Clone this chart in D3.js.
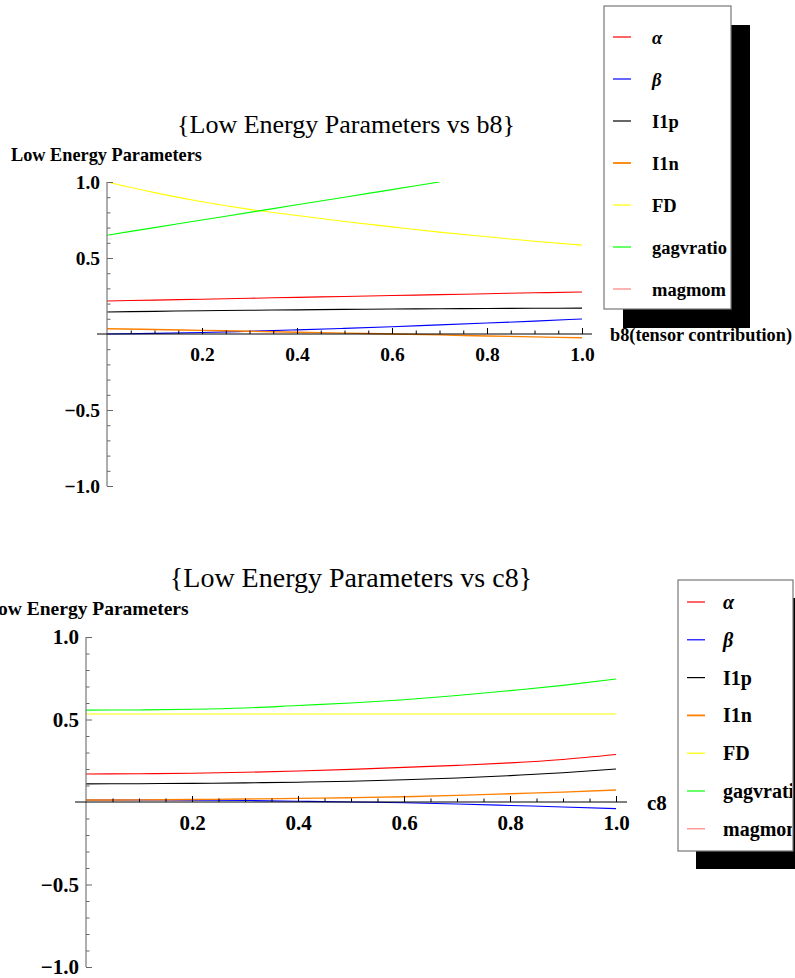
<!DOCTYPE html>
<html>
<head>
<meta charset="utf-8">
<script src="https://cdn.jsdelivr.net/npm/d3@7"></script>
<style>
  body { margin: 0; background: #fff; }
  text { font-family: "Liberation Serif", "Times New Roman", serif; }
</style>
</head>
<body>
<div class="svg-container"></div>
<script>
// ---- data ----
let xValues = [0, 0.1, 0.2, 0.3, 0.4, 0.5, 0.6, 0.7, 0.8, 0.9, 1.0];

let seriesNames = ['α', 'β', 'I1p', 'I1n', 'FD', 'gagvratio', 'magmom'];

// b8 chart
let alphaB8 = [0.217, 0.223, 0.229, 0.235, 0.241, 0.247, 0.253, 0.259, 0.265, 0.271, 0.276];
let betaB8  = [0.000, 0.004, 0.010, 0.018, 0.027, 0.037, 0.048, 0.060, 0.072, 0.085, 0.099];
let i1pB8   = [0.145, 0.149, 0.153, 0.156, 0.159, 0.162, 0.164, 0.166, 0.168, 0.169, 0.170];
let i1nB8   = [0.035, 0.030, 0.024, 0.018, 0.012, 0.006, 0.000, -0.006, -0.013, -0.019, -0.025];
let fdB8    = [1.000, 0.930, 0.870, 0.820, 0.780, 0.740, 0.705, 0.670, 0.640, 0.610, 0.585];
let gagB8   = [0.650, 0.700, 0.750, 0.800, 0.850, 0.900, 0.950, 1.000];
let magB8   = [];

// c8 chart
let alphaC8 = [0.170, 0.171, 0.174, 0.180, 0.188, 0.198, 0.210, 0.222, 0.237, 0.258, 0.288];
let betaC8  = [0.012, 0.012, 0.011, 0.009, 0.005, 0.000, -0.005, -0.012, -0.021, -0.030, -0.040];
let i1pC8   = [0.110, 0.111, 0.113, 0.116, 0.120, 0.126, 0.135, 0.145, 0.160, 0.177, 0.200];
let i1nC8   = [0.012, 0.013, 0.015, 0.018, 0.022, 0.026, 0.032, 0.040, 0.050, 0.060, 0.073];
let fdC8    = [0.533, 0.533, 0.533, 0.533, 0.533, 0.533, 0.533, 0.533, 0.533, 0.533, 0.533];
let gagC8   = [0.557, 0.558, 0.562, 0.570, 0.585, 0.600, 0.620, 0.645, 0.675, 0.707, 0.745];
let magC8   = [];

let xMajorTicks = [0.2, 0.4, 0.6, 0.8, 1.0];
let xMinorTicks = [0.05, 0.1, 0.15, 0.25, 0.3, 0.35, 0.45, 0.5, 0.55, 0.65, 0.7, 0.75, 0.85, 0.9, 0.95];
let yMajorTicks = [-1.0, -0.5, 0.5, 1.0];
let yMinorTicks = [-0.9, -0.8, -0.7, -0.6, -0.4, -0.3, -0.2, -0.1, 0.1, 0.2, 0.3, 0.4, 0.6, 0.7, 0.8, 0.9];

let seriesColor = ['#ff0000', '#0000ff', '#000000', '#ff8000', '#ffff00', '#00ff00', '#ff8080'];

let svg = d3.select(".svg-container")
  .append("svg")
  .attr("width", 795)
  .attr("height", 978);

function drawChart(opt, data) {
  let g = svg.append("g");

  let x = d3.scaleLinear().domain([0, 1]).range([opt.x0, opt.x1]);
  let y = d3.scaleLinear().domain([-1, 1]).range([opt.yBottom, opt.yTop]);

  // title + axis labels
  g.append("text")
    .attr("x", opt.titleX).attr("y", opt.titleY)
    .attr("text-anchor", "middle")
    .attr("font-size", opt.titleSize)
    .text(opt.title);

  g.append("text")
    .attr("x", opt.yLabelX).attr("y", opt.yLabelY)
    .attr("font-size", opt.yLabelSize)
    .attr("font-weight", "bold")
    .text("Low Energy Parameters");

  g.append("text")
    .attr("x", opt.xLabelX).attr("y", opt.xLabelY)
    .attr("font-size", opt.xLabelSize)
    .attr("font-weight", "bold")
    .text(opt.xLabel);

  // curves
  let clipId = "clip" + opt.id;
  svg.append("clipPath").attr("id", clipId)
    .append("rect")
    .attr("x", opt.x0 - 2).attr("y", opt.yTop)
    .attr("width", opt.x1 - opt.x0 + 4).attr("height", opt.yBottom - opt.yTop);

  let line = d3.line()
    .x(function(d) { return x(d[0]); })
    .y(function(d) { return y(d[1]); })
    .curve(d3.curveMonotoneX);

  data.forEach(function(vals, i) {
    if (vals.length === 0) return;
    let pts = vals.map(function(v, j) { return [xValues[j], v]; });
    g.append("path")
      .datum(pts)
      .attr("clip-path", "url(#" + clipId + ")")
      .attr("d", line)
      .attr("fill", "none")
      .attr("stroke", seriesColor[i])
      .attr("stroke-width", i == 3 ? 1.4 : 1.1);
  });

  // axes
  let yAxisG = g.append("g").attr("transform", "translate(" + x(0) + ",0)");
  yAxisG.append("g").call(d3.axisLeft(y).tickValues(yMinorTicks).tickSize(-3.5).tickFormat(""));
  yAxisG.append("g").call(d3.axisLeft(y).tickValues(yMajorTicks).tickSize(-6).tickPadding(7)
      .tickFormat(function(d) { return d3.format(".1f")(d).replace("-", "\u2212"); }));
  yAxisG.selectAll(".domain").remove();
  yAxisG.selectAll("line").attr("stroke", "#666");
  yAxisG.selectAll("text")
    .attr("font-size", opt.tickSize)
    .attr("font-weight", "bold")
    .attr("font-family", "Liberation Serif")
    .attr("fill", "#000");
  yAxisG.append("line")
    .attr("x1", 0).attr("x2", 0)
    .attr("y1", y(1)).attr("y2", y(-1))
    .attr("stroke", "#777").attr("stroke-width", 1.2);

  let xAxisG = g.append("g").attr("transform", "translate(0," + y(0) + ")");
  xAxisG.append("g").call(d3.axisBottom(x).tickValues(xMinorTicks).tickSize(-3.5).tickFormat(""));
  xAxisG.append("g").call(d3.axisBottom(x).tickValues(xMajorTicks).tickSize(-6).tickPadding(opt.xTickPad)
      .tickFormat(d3.format(".1f")));
  xAxisG.selectAll(".domain").remove();
  xAxisG.selectAll("line").attr("stroke", "#000");
  xAxisG.selectAll("text")
    .attr("font-size", opt.tickSize)
    .attr("font-weight", "bold")
    .attr("font-family", "Liberation Serif")
    .attr("fill", "#000");
  xAxisG.append("line")
    .attr("x1", opt.x0 - opt.axisExt).attr("x2", opt.x1 + opt.axisExt)
    .attr("y1", 0).attr("y2", 0)
    .attr("stroke", "#000").attr("stroke-width", 1);

  // legend
  let lg = svg.append("g");
  lg.append("rect")
    .attr("x", opt.legX + opt.shadow).attr("y", opt.legY + opt.shadow)
    .attr("width", opt.legW).attr("height", opt.legH)
    .attr("fill", "#000");
  lg.append("rect")
    .attr("x", opt.legX).attr("y", opt.legY)
    .attr("width", opt.legW).attr("height", opt.legH)
    .attr("fill", "#fff").attr("stroke", "#777").attr("stroke-width", 1.2);

  let legClip = "legclip" + opt.id;
  svg.append("clipPath").attr("id", legClip)
    .append("rect")
    .attr("x", opt.legX).attr("y", opt.legY)
    .attr("width", opt.legW - 1).attr("height", opt.legH);

  let items = lg.append("g").attr("clip-path", "url(#" + legClip + ")");
  seriesNames.forEach(function(name, i) {
    let cy = opt.legItemY0 + i * opt.legStep;
    items.append("line")
      .attr("x1", opt.legX + 9).attr("x2", opt.legX + 27)
      .attr("y1", cy).attr("y2", cy)
      .attr("stroke", seriesColor[i]).attr("stroke-width", i == 3 ? 1.8 : 1.2);
    items.append("text")
      .attr("x", opt.legX + opt.legTextDx).attr("y", cy + 7)
      .attr("font-size", opt.legFont)
      .attr("font-weight", "bold")
      .attr("font-style", i < 2 ? "italic" : "normal")
      .text(name);
  });
}

drawChart({
  id: 1, title: "{Low Energy Parameters vs b8}", titleX: 346, titleY: 133, titleSize: 26,
  yLabelX: 11, yLabelY: 161, yLabelSize: 18.3,
  xLabel: "b8(tensor contribution)", xLabelX: 610, xLabelY: 341, xLabelSize: 18.3,
  x0: 107, x1: 582, yTop: 182, yBottom: 486, axisExt: 10, tickSize: 19.5, xTickPad: 13,
  legX: 604, legY: 6, legW: 127, legH: 303, shadow: 19,
  legItemY0: 37, legStep: 42, legTextDx: 48, legFont: 18.5
}, [alphaB8, betaB8, i1pB8, i1nB8, fdB8, gagB8, magB8]);

drawChart({
  id: 2, title: "{Low Energy Parameters vs c8}", titleX: 351, titleY: 587, titleSize: 28,
  yLabelX: -15, yLabelY: 615, yLabelSize: 19.5,
  xLabel: "c8", xLabelX: 647, xLabelY: 810, xLabelSize: 21,
  x0: 86, x1: 616, yTop: 637, yBottom: 967, axisExt: 11, tickSize: 21, xTickPad: 13,
  legX: 678, legY: 580, legW: 115, legH: 271, shadow: 18,
  legItemY0: 602, legStep: 37.8, legTextDx: 45, legFont: 20
}, [alphaC8, betaC8, i1pC8, i1nC8, fdC8, gagC8, magC8]);
</script>
</body>
</html>
